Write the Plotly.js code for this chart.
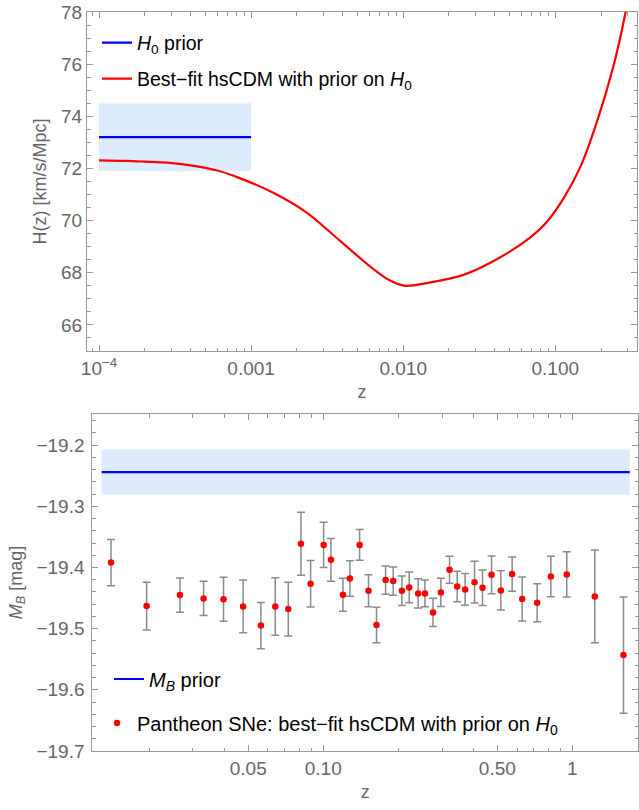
<!DOCTYPE html>
<html>
<head>
<meta charset="utf-8">
<script src="https://cdn.plot.ly/plotly-3.0.1.min.js"></script>
<style>html,body{margin:0;padding:0;background:#fff;}</style>
</head>
<body>
<div id="chart" style="width:639px;height:810px;"></div>
<script>
// ---------- Top panel: H(z) ----------
const hzZ = [1e-4, 1.5e-4, 2e-4, 2.8e-4, 4e-4, 6e-4, 8.5e-4, 1.4e-3, 2.32e-3, 3.85e-3, 6.38e-3, 8.2e-3, 1.03e-2, 1.51e-2, 2.49e-2, 4.13e-2, 6.83e-2, 8.8e-2, 0.1134, 0.146, 0.187, 0.241, 0.289, 0.3];
const hzH = [72.31, 72.29, 72.26, 72.22, 72.12, 71.92, 71.62, 71.07, 70.31, 69.22, 68.14, 67.7, 67.5, 67.63, 67.92, 68.52, 69.35, 69.95, 70.85, 72.05, 73.75, 75.91, 77.95, 78.5];
const h0PriorZ = [1e-4, 1e-3];
const h0PriorMean = 73.2;
const h0PriorSigma = 1.3;

// ---------- Bottom panel: M_B ----------
const snZ = [0.01406, 0.01955, 0.0266, 0.0331, 0.0398, 0.0477, 0.0562, 0.0642, 0.0724, 0.0814,
             0.089, 0.1004, 0.1074, 0.12, 0.128, 0.14, 0.152, 0.1637, 0.178, 0.191,
             0.207, 0.2215, 0.2405, 0.256, 0.276, 0.2967, 0.3215, 0.345, 0.3713, 0.405,
             0.436, 0.474, 0.5165, 0.5734, 0.629, 0.7225, 0.82, 0.95, 1.231, 1.605];
const snMB = [-19.392, -19.463, -19.445, -19.4505, -19.452, -19.4636, -19.495, -19.4636, -19.468, -19.361,
              -19.4266, -19.363, -19.3874, -19.4446, -19.418, -19.363, -19.438, -19.494, -19.4206, -19.4222,
              -19.438, -19.4325, -19.4423, -19.4423, -19.4734, -19.4407, -19.4037, -19.431, -19.4358, -19.4239,
              -19.4332, -19.412, -19.4374, -19.4108, -19.4516, -19.4577, -19.4146, -19.4113, -19.4472, -19.5431];
const snErr = [0.038, 0.039, 0.028, 0.028, 0.036, 0.043, 0.038, 0.047, 0.044, 0.0515,
               0.038, 0.037, 0.035, 0.027, 0.029, 0.025, 0.026, 0.029, 0.023, 0.023,
               0.024, 0.025, 0.024, 0.022, 0.023, 0.023, 0.022, 0.025, 0.026, 0.034,
               0.029, 0.031, 0.032, 0.028, 0.036, 0.031, 0.033, 0.037, 0.076, 0.095];
const mbPriorZ = [0.0129, 1.70];
const mbPriorMean = -19.244;
const mbPriorSigma = 0.037;

// ---------- tick labels ----------
const topXTickVals = [1e-4, 1e-3, 1e-2, 1e-1];
const topXTickText = ['10<sup>\u22124</sup>', '0.001', '0.010', '0.100'];
const botXTickVals = [0.05, 0.1, 0.5, 1];
const botXTickText = ['0.05', '0.10', '0.50', '1'];

function logMinors(decades) {
  const out = [];
  decades.forEach(d => { for (let k = 2; k <= 9; k++) out.push(k * d); });
  return out;
}
function bandX(z) { return [z[0], z[1], z[1], z[0], z[0]]; }
function bandY(m, s) { return [m - s, m - s, m + s, m + s, m - s]; }

const BAND = '#ddecfc';
const AXC = '#999999';
const TXC = '#666666';
const FONT = 'Liberation Sans, Arial, sans-serif';

const traces = [
  { x: bandX(h0PriorZ), y: bandY(h0PriorMean, h0PriorSigma), type: 'scatter', mode: 'lines',
    fill: 'toself', fillcolor: BAND, line: {width: 0}, showlegend: false, hoverinfo: 'skip', xaxis: 'x', yaxis: 'y' },
  { x: h0PriorZ, y: h0PriorZ.map(() => h0PriorMean), type: 'scatter', mode: 'lines',
    line: {color: '#0000ff', width: 2.2}, name: '<i>H</i><sub>0</sub> prior', legend: 'legend', xaxis: 'x', yaxis: 'y' },
  { x: hzZ, y: hzH, type: 'scatter', mode: 'lines', line: {color: '#ff0000', width: 2.2, shape: 'spline', smoothing: 0.9},
    name: 'Best\u2212fit hsCDM with prior on <i>H</i><sub>0</sub>', legend: 'legend2', xaxis: 'x', yaxis: 'y' },

  { x: bandX(mbPriorZ), y: bandY(mbPriorMean, mbPriorSigma), type: 'scatter', mode: 'lines',
    fill: 'toself', fillcolor: BAND, line: {width: 0}, showlegend: false, hoverinfo: 'skip', xaxis: 'x2', yaxis: 'y2' },
  { x: mbPriorZ, y: mbPriorZ.map(() => mbPriorMean), type: 'scatter', mode: 'lines',
    line: {color: '#0000ff', width: 2.2}, name: '<i>M</i><sub><i>B</i></sub> prior', legend: 'legend3', xaxis: 'x2', yaxis: 'y2' },
  { x: snZ, y: snMB, type: 'scatter', mode: 'markers',
    marker: {color: '#ff0000', size: 6.5},
    error_y: {type: 'data', array: snErr, visible: true, color: '#8a8a8a', thickness: 1.5, width: 4},
    name: 'Pantheon SNe: best\u2212fit hsCDM with prior on <i>H</i><sub>0</sub>', legend: 'legend4', xaxis: 'x2', yaxis: 'y2' }
];

const common = {
  showline: true, linecolor: AXC, linewidth: 1, mirror: 'ticks',
  ticks: 'inside', ticklen: 6, tickcolor: AXC, tickwidth: 1,
  showgrid: false, zeroline: false,
  tickfont: {family: FONT, size: 19, color: TXC}
};
function legendAt(x, y, size) {
  return { x: x, y: y, xanchor: 'left', yanchor: 'middle', bgcolor: 'rgba(0,0,0,0)', borderwidth: 0,
           font: {family: FONT, size: size, color: '#000'}, itemwidth: 30 };
}

const layout = {
  width: 639, height: 810,
  margin: {l: 0, r: 0, t: 0, b: 0},
  paper_bgcolor: '#fff', plot_bgcolor: '#fff',
  font: {family: FONT},
  xaxis: Object.assign({}, common, {
    type: 'log', domain: [87/639, 637/639], range: [-4.079, -0.4625], anchor: 'y',
    tickmode: 'array', tickvals: topXTickVals, ticktext: topXTickText,
    minor: {tickmode: 'array', tickvals: logMinors([1e-5, 1e-4, 1e-3, 1e-2, 1e-1]), ticks: 'inside', ticklen: 3.5, tickcolor: AXC},
    title: {text: 'z', font: {family: FONT, size: 18, color: TXC}, standoff: 7}
  }),
  yaxis: Object.assign({}, common, {
    domain: [1 - 351/810, 1 - 12/810], range: [65, 78], anchor: 'x',
    tickmode: 'linear', tick0: 66, dtick: 2,
    minor: {dtick: 0.5, ticks: 'inside', ticklen: 3.5, tickcolor: AXC},
    ticklabelstandoff: 0,
    title: {text: 'H(z) [km/s/Mpc]', font: {family: FONT, size: 18, color: TXC}, standoff: 9}
  }),
  xaxis2: Object.assign({}, common, {
    type: 'log', domain: [92.3/639, 638/639], range: [-1.927, 0.2637], anchor: 'y2',
    tickmode: 'array', tickvals: botXTickVals, ticktext: botXTickText,
    minor: {tickmode: 'array', tickvals: [0.02, 0.03, 0.04, 0.06, 0.07, 0.08, 0.09, 0.2, 0.3, 0.4, 0.6, 0.7, 0.8, 0.9], ticks: 'inside', ticklen: 3.5, tickcolor: AXC},
    title: {text: 'z', font: {family: FONT, size: 18, color: TXC}, standoff: 7}
  }),
  yaxis2: Object.assign({}, common, {
    domain: [1 - 751/810, 1 - 414/810], range: [-19.7, -19.149], anchor: 'x2',
    tickmode: 'linear', tick0: -19.7, dtick: 0.1, tickformat: '.1f',
    minor: {dtick: 0.02, ticks: 'inside', ticklen: 3.5, tickcolor: AXC},
    ticklabelstandoff: 3,
    title: {text: '<i>M</i><sub><i>B</i></sub> [mag]', font: {family: FONT, size: 18, color: TXC}, standoff: 9}
  }),
  legend: legendAt((139 - 42)/639, 1 - 43/810, 19.5),
  legend2: legendAt((139 - 42)/639, 1 - 79/810, 19.5),
  legend3: legendAt((151 - 42)/639, 1 - 679/810, 20),
  legend4: legendAt((139 - 42)/639, 1 - 723/810, 20),
  showlegend: true
};

Plotly.newPlot('chart', traces, layout, {displayModeBar: false, staticPlot: true});
</script>
</body>
</html>
